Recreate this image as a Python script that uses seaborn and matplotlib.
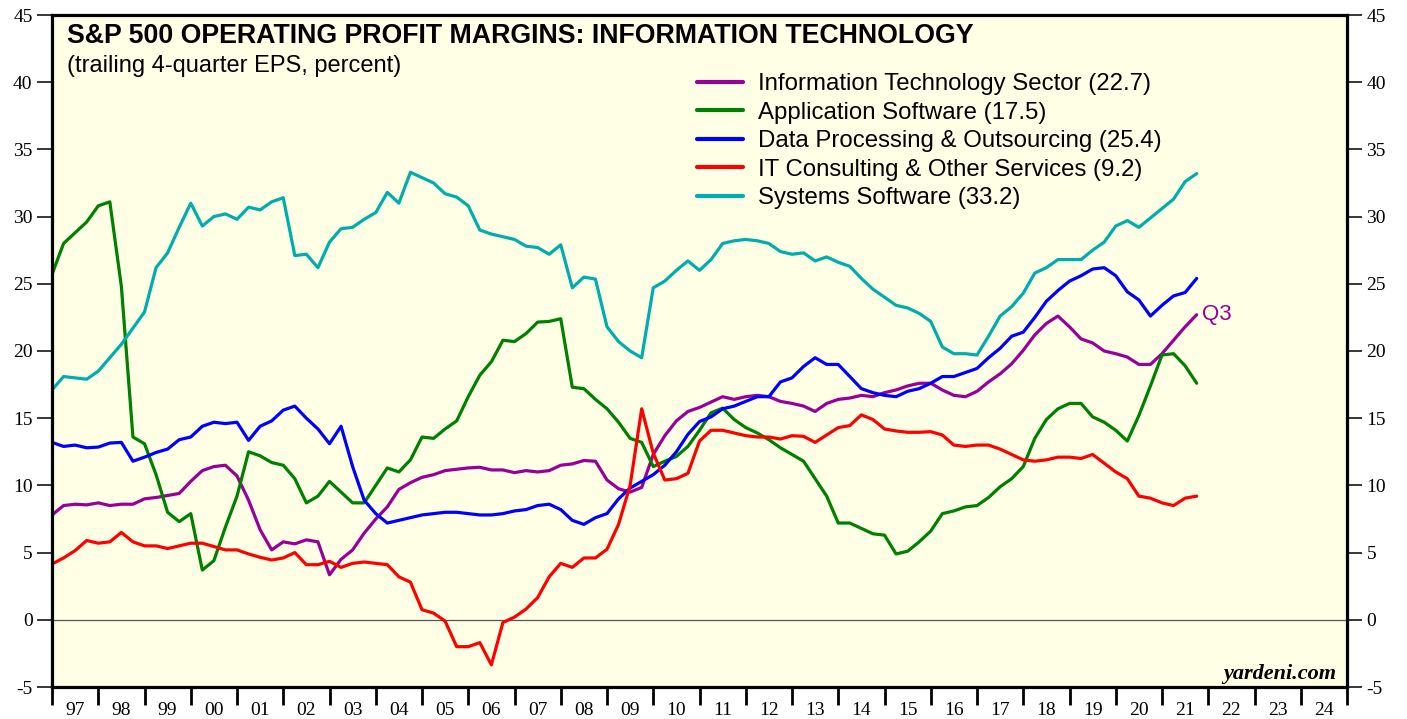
import numpy as np
import pandas as pd
import matplotlib
matplotlib.use("Agg")
import matplotlib.pyplot as plt
import seaborn as sns

# quarterly, Q4 1996 .. Q3 2021 (100 points)
quarters = pd.period_range("1996Q4", "2021Q3", freq="Q")

it_sector = [7.8, 8.5, 8.6, 8.55, 8.7, 8.5, 8.6, 8.6, 9.0, 9.1, 9.25, 9.4, 10.3, 11.1, 11.4, 11.5,
             10.7, 8.9, 6.7, 5.2, 5.8, 5.65, 5.95, 5.8, 3.35, 4.5, 5.2, 6.45, 7.5, 8.4, 9.7, 10.2,
             10.6, 10.8, 11.1, 11.2, 11.3, 11.35, 11.15, 11.15, 10.95, 11.1, 11.0, 11.1, 11.5, 11.6,
             11.85, 11.8, 10.4, 9.75, 9.5, 9.85, 12.3, 13.7, 14.8, 15.5, 15.8, 16.2, 16.6, 16.4,
             16.6, 16.7, 16.6, 16.25, 16.1, 15.9, 15.5, 16.1, 16.4, 16.5, 16.7, 16.6, 16.9, 17.1,
             17.4, 17.6, 17.6, 17.1, 16.7, 16.6, 17.0, 17.7, 18.3, 19.05, 20.05, 21.2, 22.05, 22.6,
             21.8, 20.9, 20.6, 20.0, 19.8, 19.55, 19.0, 19.0, 19.8, 20.8, 21.8, 22.7]

app_software = [25.7, 28.0, 28.8, 29.6, 30.8, 31.1, 24.8, 13.6, 13.1, 10.8, 8.0, 7.3, 7.9, 3.7, 4.4, 6.9,
                9.2, 12.5, 12.2, 11.7, 11.5, 10.5, 8.7, 9.2, 10.3, 9.5, 8.7, 8.7, 10.0, 11.3, 11.0, 11.9,
                13.6, 13.5, 14.2, 14.8, 16.6, 18.2, 19.2, 20.8, 20.7, 21.3, 22.15, 22.2, 22.4, 17.3,
                17.2, 16.4, 15.7, 14.7, 13.5, 13.2, 11.4, 11.8, 12.15, 12.9, 14.1, 15.4, 15.75, 14.9,
                14.3, 13.9, 13.4, 12.8, 12.3, 11.8, 10.5, 9.2, 7.2, 7.2, 6.8, 6.4, 6.3, 4.9,
                5.1, 5.8, 6.6, 7.9, 8.1, 8.4, 8.5, 9.1, 9.9, 10.5, 11.4, 13.5, 14.9, 15.7,
                16.1, 16.1, 15.1, 14.7, 14.1, 13.3, 15.2, 17.4, 19.7, 19.8, 18.9, 17.6]

data_processing = [13.2, 12.9, 13.0, 12.8, 12.85, 13.15, 13.2, 11.8, 12.1, 12.45, 12.7, 13.4, 13.6, 14.4, 14.7, 14.6,
                   14.7, 13.35, 14.4, 14.8, 15.6, 15.9, 15.0, 14.2, 13.1, 14.4, 11.4, 8.9, 7.9, 7.2, 7.4, 7.6,
                   7.8, 7.9, 8.0, 8.0, 7.9, 7.8, 7.8, 7.9, 8.1, 8.2, 8.5, 8.6, 8.2, 7.4,
                   7.1, 7.6, 7.9, 9.0, 9.8, 10.3, 10.8, 11.5, 12.5, 13.8, 14.75, 15.1, 15.7, 15.9,
                   16.25, 16.6, 16.6, 17.7, 18.0, 18.85, 19.5, 19.0, 19.0, 18.1, 17.2, 16.9, 16.7, 16.6,
                   17.0, 17.2, 17.6, 18.1, 18.1, 18.4, 18.7, 19.5, 20.2, 21.1, 21.4, 22.5, 23.7, 24.5,
                   25.2, 25.6, 26.1, 26.2, 25.6, 24.4, 23.8, 22.6, 23.4, 24.1, 24.35, 25.4]

it_consulting = [4.15, 4.6, 5.15, 5.9, 5.7, 5.8, 6.5, 5.8, 5.5, 5.5, 5.3, 5.5, 5.7, 5.7, 5.45, 5.2,
                 5.2, 4.9, 4.65, 4.45, 4.6, 5.0, 4.1, 4.1, 4.35, 3.9, 4.2, 4.3, 4.2, 4.1, 3.2, 2.8,
                 0.75, 0.5, -0.1, -2.0, -2.0, -1.7, -3.35, -0.2, 0.2, 0.8, 1.65, 3.2, 4.2, 3.9,
                 4.6, 4.6, 5.25, 7.1, 10.0, 15.7, 12.4, 10.4, 10.5, 10.9, 13.3, 14.1, 14.1, 13.9,
                 13.7, 13.6, 13.6, 13.45, 13.7, 13.65, 13.2, 13.75, 14.3, 14.45, 15.25, 14.9, 14.2, 14.05,
                 13.95, 13.95, 14.0, 13.75, 13.0, 12.9, 13.0, 13.0, 12.7, 12.3, 11.9, 11.8, 11.9, 12.1,
                 12.1, 12.0, 12.3, 11.65, 11.0, 10.5, 9.2, 9.05, 8.7, 8.5, 9.05, 9.2]

sys_software = [17.1, 18.1, 18.0, 17.9, 18.5, 19.5, 20.5, 21.7, 22.9, 26.2, 27.3, 29.2, 31.0, 29.3, 30.0, 30.2,
                29.8, 30.7, 30.5, 31.1, 31.4, 27.1, 27.2, 26.2, 28.1, 29.1, 29.2, 29.8, 30.3, 31.8, 31.0, 33.3,
                32.9, 32.5, 31.7, 31.45, 30.8, 29.0, 28.7, 28.5, 28.3, 27.8, 27.7, 27.2, 27.9, 24.7,
                25.5, 25.35, 21.8, 20.7, 20.0, 19.5, 24.7, 25.2, 26.0, 26.7, 26.0, 26.8, 28.0, 28.2,
                28.3, 28.2, 28.0, 27.4, 27.2, 27.3, 26.7, 27.0, 26.6, 26.3, 25.4, 24.6, 24.0, 23.4,
                23.2, 22.8, 22.2, 20.3, 19.8, 19.8, 19.7, 21.1, 22.6, 23.3, 24.3, 25.8, 26.2, 26.8,
                26.8, 26.8, 27.5, 28.1, 29.3, 29.7, 29.2, 29.9, 30.6, 31.3, 32.6, 33.2]

labels = ["Information Technology Sector (22.7)", "Application Software (17.5)",
          "Data Processing & Outsourcing (25.4)", "IT Consulting & Other Services (9.2)",
          "Systems Software (33.2)"]
colors = ["#990099", "#008000", "#0000ff", "#ff0000", "#00adad"]
year_labels = ["97", "98", "99", "00", "01", "02", "03", "04", "05", "06", "07", "08", "09", "10",
               "11", "12", "13", "14", "15", "16", "17", "18", "19", "20", "21", "22", "23", "24"]

# quarter-end position as fractional year
t = np.array([q.year + q.quarter / 4 for q in quarters])

series = [it_sector, app_software, data_processing, it_consulting, sys_software]
df = pd.concat([pd.DataFrame({"t": t, "value": v, "series": lab}) for lab, v in zip(labels, series)])

sns.set_style("white")
plt.rcParams["font.family"] = ["Liberation Sans", "DejaVu Sans"]
plt.rcParams["text.color"] = "black"
plt.rcParams["xtick.color"] = "black"
plt.rcParams["ytick.color"] = "black"

W, H = 1407, 719
fig = plt.figure(figsize=(W / 100, H / 100), dpi=100)
ax = fig.add_axes([52 / W, 1 - 687 / H, (1347 - 52) / W, (687 - 15) / H])
ax.set_facecolor("#ffffe6")

sns.lineplot(data=df, x="t", y="value", hue="series", hue_order=labels,
             palette=dict(zip(labels, colors)), linewidth=2.3, ax=ax)

ax.set_xlim(1997, 2025)
ax.set_ylim(-5, 45)
ax.axhline(0, color="#555555", linewidth=0.9, zorder=1)
ax.set_xlabel("")
ax.set_ylabel("")

for sp in ax.spines.values():
    sp.set_linewidth(2.3)
    sp.set_color("black")

serif = "Liberation Serif"
ax.set_yticks(np.arange(-5, 46, 5))
ax.set_yticklabels([str(v) for v in range(-5, 46, 5)], fontfamily=serif, fontsize=14)
ax.yaxis.set_ticks_position("both")
ax.tick_params(axis="y", which="major", direction="out", length=11, width=1.1,
               labelright=True, labelleft=True, pad=3, colors="black")

ax.set_xticks(np.arange(1997, 2026))
ax.set_xticklabels([])
ax.set_xticks(np.arange(1997.5, 2025, 1.0), minor=True)
ax.set_xticklabels(year_labels, minor=True, fontfamily=serif, fontsize=14)
ax.tick_params(axis="x", which="major", direction="out", length=13, width=2.0, bottom=True, colors="black")
ax.tick_params(axis="x", which="minor", length=0, pad=11, colors="black")

leg = ax.legend(loc="upper left", bbox_to_anchor=(697 / W, 1 - 73 / H), bbox_transform=fig.transFigure,
                frameon=False, fontsize=17.3, handlelength=1.92, handletextpad=0.63,
                labelspacing=0.275, borderpad=0, borderaxespad=0)
for line in leg.get_lines():
    line.set_linewidth(3)
for txt in leg.get_texts():
    txt.set_color("black")

fig.text(67 / W, 1 - 43 / H, "S&P 500 OPERATING PROFIT MARGINS: INFORMATION TECHNOLOGY",
         fontsize=19.3, fontweight="bold", va="baseline", ha="left", color="black")
fig.text(67 / W, 1 - 72 / H, "(trailing 4-quarter EPS, percent)", fontsize=17, va="baseline",
         ha="left", color="black")

ax.annotate("Q3", xy=(t[-1], it_sector[-1]), xytext=(4, 0), textcoords="offset points",
            color=colors[0], fontsize=16, va="center", ha="left")

fig.text(1336 / W, 1 - 679 / H, "yardeni.com", fontfamily=serif, fontsize=16, fontweight="bold",
         fontstyle="italic", ha="right", va="baseline", color="black")

fig.savefig("out.png", dpi=100, facecolor="white")
